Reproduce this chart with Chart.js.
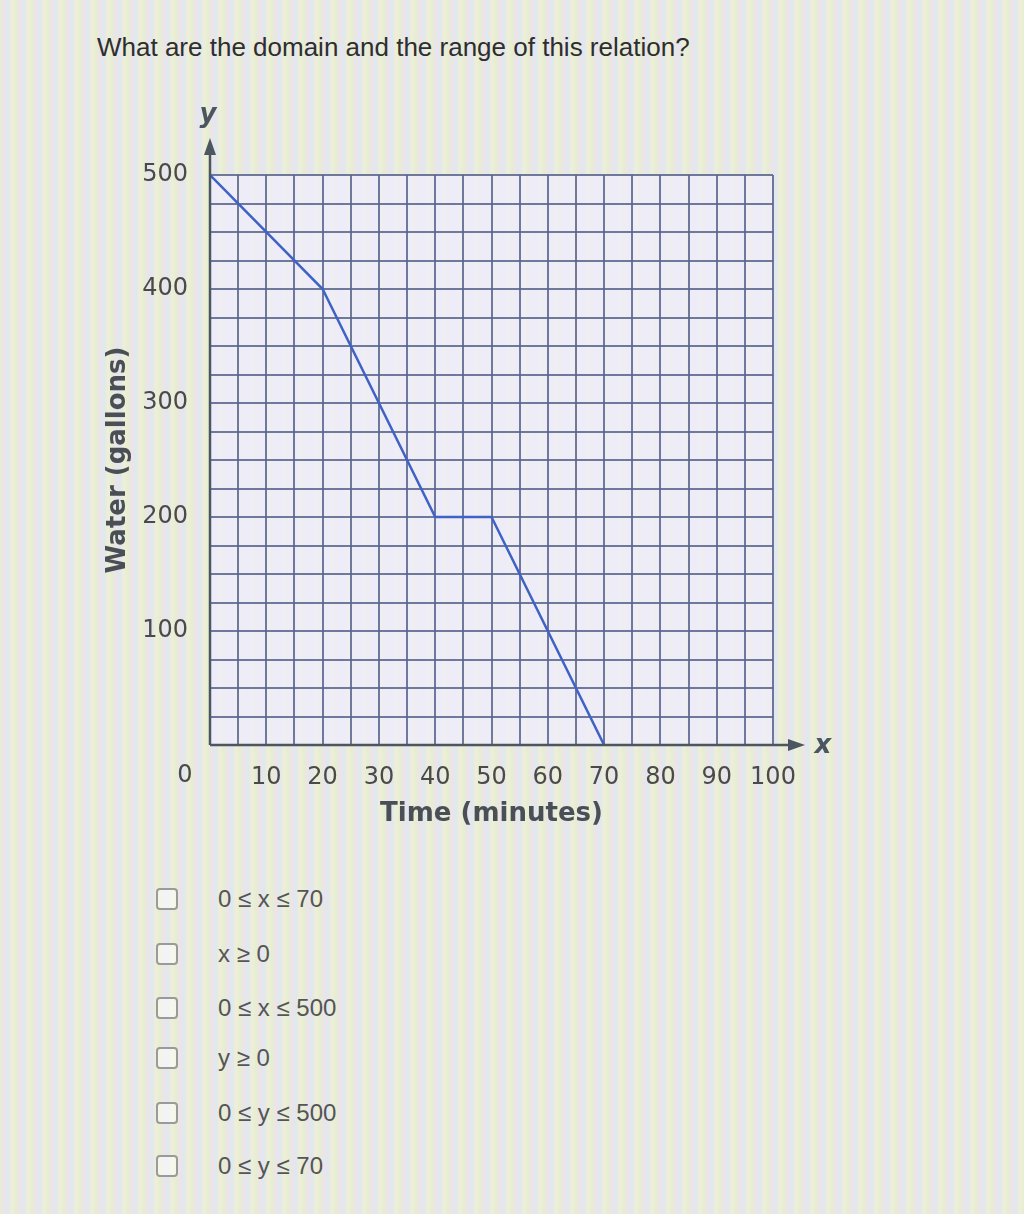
<!DOCTYPE html>
<html>
<head>
<meta charset="utf-8">
<script src="https://cdn.jsdelivr.net/npm/chart.js@4.4.1/dist/chart.umd.min.js"></script>
<style>
  html, body { margin: 0; padding: 0; }
  body {
    width: 1024px; height: 1214px; position: relative; overflow: hidden;
    font-family: "Liberation Sans", Arial, sans-serif;
    background:
      repeating-linear-gradient(90deg,
        #e4eed2 0px, #eee3ea 4px, #dde9ef 8px, #f0eed6 12px, #e4eed2 16px);
  }
  .question {
    position: absolute; left: 97px; top: 32px;
    font-size: 26px; color: #2e2e2e;
  }
  #wrap { position: absolute; left: 0; top: 90px; width: 1024px; height: 760px; }
  .opt {
    position: absolute; left: 156px; height: 26px;
    font-size: 24px; color: #555; line-height: 26px;
  }
  .opt .box {
    position: absolute; left: 0; top: 2px; width: 18px; height: 18px;
    border: 2px solid #9a9a9a; border-radius: 4px; background: rgba(255,255,255,0.5);
  }
  .opt .txt { position: absolute; left: 62px; top: 0; white-space: nowrap; }
</style>
</head>
<body>
<div class="question">What are the domain and the range of this relation?</div>
<div id="wrap"><canvas id="myChart" width="1024" height="760"></canvas></div>

<div class="opt" style="top:886px"><span class="box"></span><span class="txt">0 ≤ x ≤ 70</span></div>
<div class="opt" style="top:941px"><span class="box"></span><span class="txt">x ≥ 0</span></div>
<div class="opt" style="top:995px"><span class="box"></span><span class="txt">0 ≤ x ≤ 500</span></div>
<div class="opt" style="top:1045px"><span class="box"></span><span class="txt">y ≥ 0</span></div>
<div class="opt" style="top:1100px"><span class="box"></span><span class="txt">0 ≤ y ≤ 500</span></div>
<div class="opt" style="top:1153px"><span class="box"></span><span class="txt">0 ≤ y ≤ 70</span></div>

<script>
// データ
var timeMinutes = [0, 20, 40, 50, 70];
var waterGallons = [500, 400, 200, 200, 0];
var xTickLabels = [10, 20, 30, 40, 50, 60, 70, 80, 90, 100];
var yTickLabels = [100, 200, 300, 400, 500];

var points = timeMinutes.map(function (t, i) { return { x: t, y: waterGallons[i] }; });

var tickFont = { family: 'DejaVu Sans', size: 24 };
var titleFont = { family: 'DejaVu Sans', size: 26, weight: 'bold' };
var axisColor = '#4b5660';
var gridColor = 'rgba(88, 100, 140, 0.85)';

/* 矢印・軸ラベル・原点の0を描く */
var axisDecor = {
  id: 'axisDecor',
  beforeDraw: function (chart) {
    var a = chart.chartArea, c = chart.ctx;
    c.save();
    c.fillStyle = 'rgba(240, 238, 252, 0.75)';
    c.fillRect(a.left, a.top, a.right - a.left, a.bottom - a.top);
    c.restore();
  },
  afterDraw: function (chart) {
    var a = chart.chartArea, c = chart.ctx;
    var x0 = chart.scales.x.getPixelForValue(0);
    var y0 = chart.scales.y.getPixelForValue(0);
    c.save();
    c.strokeStyle = axisColor;
    c.fillStyle = axisColor;
    c.lineWidth = 2.5;
    // y軸
    c.beginPath(); c.moveTo(x0, y0); c.lineTo(x0, a.top - 22); c.stroke();
    c.beginPath(); c.moveTo(x0, a.top - 37); c.lineTo(x0 - 6, a.top - 20); c.lineTo(x0 + 6, a.top - 20); c.closePath(); c.fill();
    // x軸
    c.beginPath(); c.moveTo(x0, y0); c.lineTo(a.right + 22, y0); c.stroke();
    c.beginPath(); c.moveTo(a.right + 32, y0); c.lineTo(a.right + 15, y0 - 6); c.lineTo(a.right + 15, y0 + 6); c.closePath(); c.fill();
    c.font = 'italic bold 26px "DejaVu Sans"';
    c.textAlign = 'center'; c.textBaseline = 'middle';
    c.fillText('y', x0 - 2, a.top - 60);
    c.fillText('x', a.right + 50, y0 + 1);
    c.font = '24px "DejaVu Sans"';
    c.fillStyle = '#4a4a4a';
    c.fillText('0', x0 - 25, y0 + 31);
    c.restore();
  }
};

var ctx = document.getElementById('myChart').getContext('2d');
var myChart = new Chart(ctx, {
  type: 'scatter',
  data: {
    datasets: [{
      data: points,
      showLine: true,
      borderColor: '#3f62c6',
      borderWidth: 2.5,
      pointRadius: 0,
      tension: 0
    }]
  },
  options: {
    responsive: false,
    animation: false,
    layout: { padding: { left: 100, right: 251, top: 85, bottom: 20 } },
    plugins: { legend: { display: false }, tooltip: { enabled: false } },
    scales: {
      x: {
        type: 'linear', min: 0, max: 100,
        afterFit: function (s) { s.height = 85; },
        ticks: {
          stepSize: 5, autoSkip: false, maxRotation: 0, padding: 18,
          color: '#4a4a4a', font: tickFont,
          callback: function (v) { return xTickLabels.indexOf(v) >= 0 ? String(v) : ''; }
        },
        grid: { color: gridColor, lineWidth: 2, drawTicks: false },
        border: { display: false },
        title: { display: true, text: 'Time (minutes)', color: '#4a4f55', font: titleFont, padding: 0 }
      },
      y: {
        type: 'linear', min: 0, max: 500,
        afterFit: function (s) { s.width = 110; },
        ticks: {
          stepSize: 25, autoSkip: false, padding: 22,
          color: '#4a4a4a', font: tickFont,
          callback: function (v) { return yTickLabels.indexOf(v) >= 0 ? String(v) : ''; }
        },
        grid: { color: gridColor, lineWidth: 2, drawTicks: false },
        border: { display: false },
        title: { display: true, text: 'Water (gallons)', color: '#4a4f55', font: titleFont, padding: 3 }
      }
    }
  },
  plugins: [axisDecor]
});
</script>
</body>
</html>
